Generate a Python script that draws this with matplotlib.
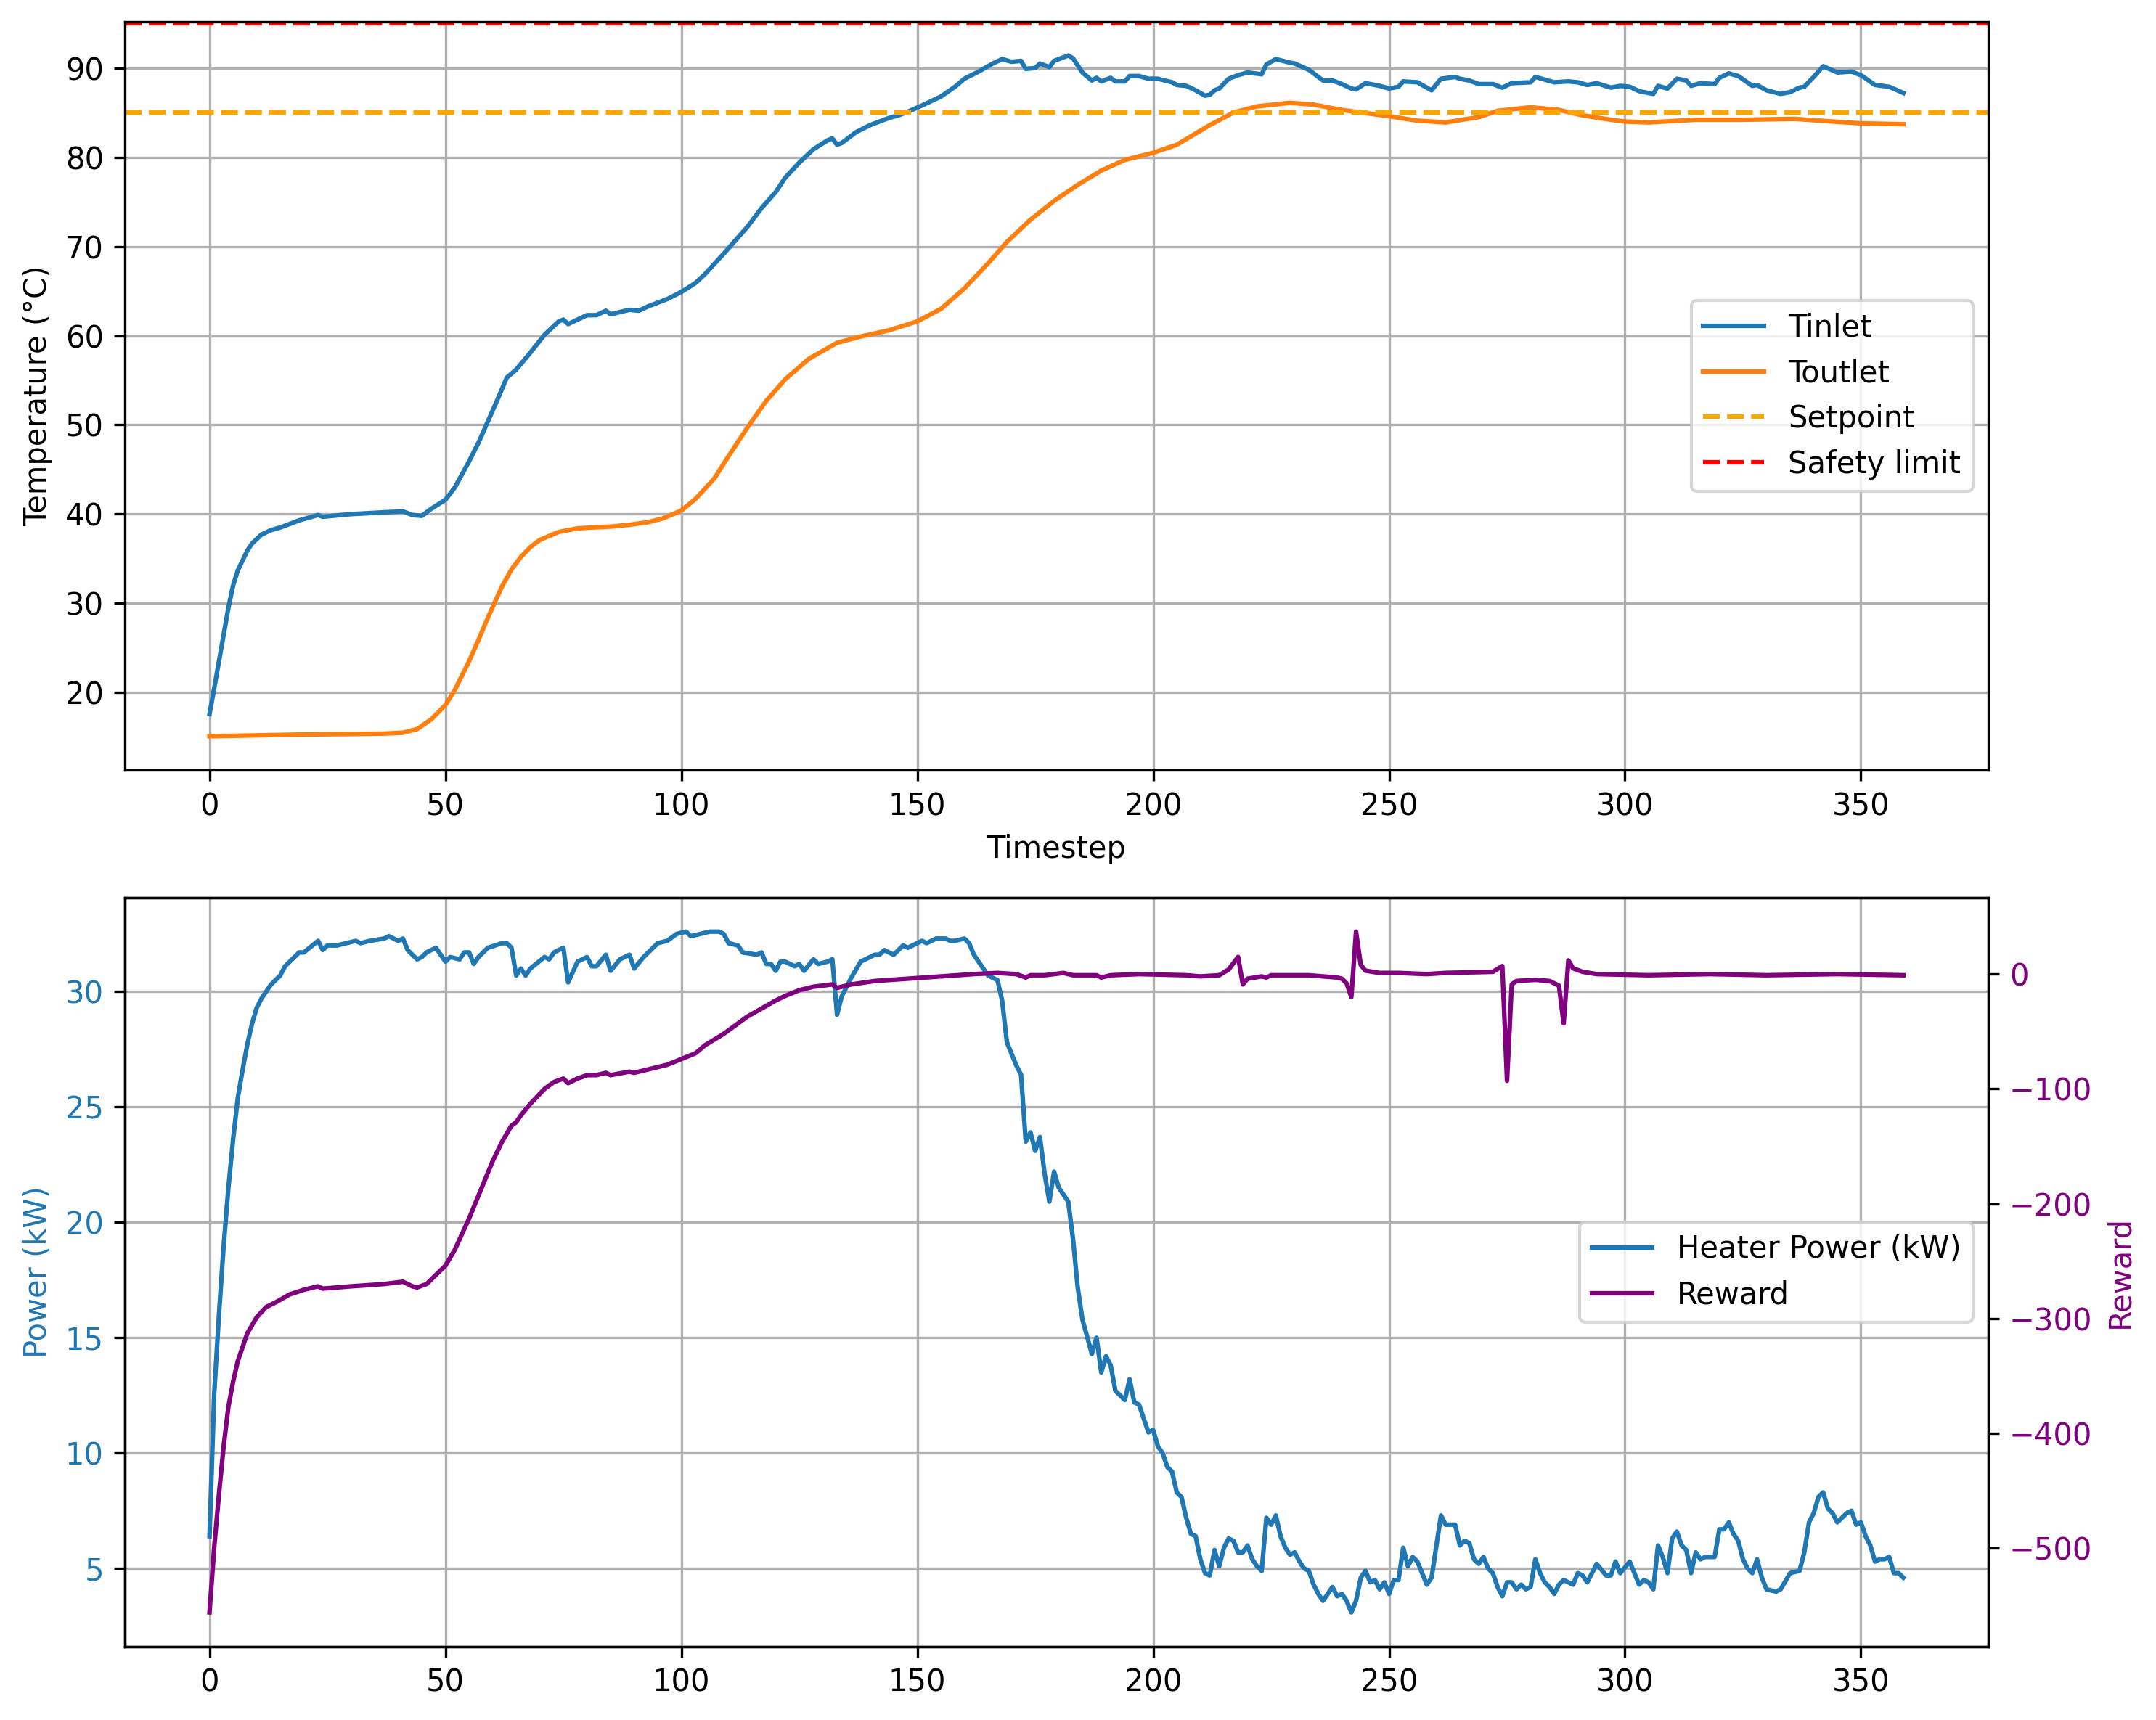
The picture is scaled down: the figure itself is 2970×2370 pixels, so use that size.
import numpy as np
import matplotlib
matplotlib.use("Agg")
from matplotlib import pyplot as plt

# inlet / outlet temperatures (timestep, degC)
t_in = [0, 1, 2, 3, 4, 5, 6, 8, 9, 11, 13, 15, 19, 23, 24, 30, 37, 41, 43, 45, 47, 50,
        52, 55, 57, 59, 61, 63, 65, 68, 71, 74, 75, 76, 80, 82, 84, 85, 89, 91, 93, 97,
        100, 103, 105, 109, 110, 114, 117, 120, 122, 125, 128, 131, 132, 133, 134, 137,
        140, 144, 146, 148, 151, 155, 158, 160, 163, 166, 168, 170, 172, 173, 175, 176,
        178, 179, 182, 183, 185, 187, 188, 189, 191, 192, 194, 195, 197, 199, 201, 204,
        205, 207, 209, 211, 212, 213, 214, 216, 218, 220, 223, 224, 226, 229, 230, 233,
        236, 238, 240, 242, 243, 245, 248, 250, 252, 253, 256, 259, 261, 264, 265, 267,
        269, 272, 274, 276, 280, 281, 285, 288, 290, 292, 294, 297, 299, 301, 303, 306,
        307, 309, 311, 313, 314, 316, 319, 320, 322, 324, 327, 328, 330, 333, 335, 337,
        338, 340, 342, 345, 348, 350, 353, 356, 359]
tinlet = [17.6, 20.5, 23.5, 26.5, 29.5, 32.0, 33.7, 35.9, 36.7, 37.7, 38.2, 38.5, 39.3,
          39.9, 39.7, 40.0, 40.2, 40.3, 39.9, 39.8, 40.6, 41.6, 43.0, 45.9, 48.0, 50.4,
          52.8, 55.3, 56.2, 58.1, 60.1, 61.6, 61.8, 61.3, 62.3, 62.3, 62.8, 62.4, 62.9,
          62.8, 63.3, 64.1, 64.9, 65.9, 66.9, 69.2, 69.8, 72.2, 74.3, 76.1, 77.7, 79.4,
          80.9, 81.9, 82.1, 81.4, 81.6, 82.8, 83.6, 84.4, 84.7, 85.1, 85.8, 86.8, 87.9,
          88.8, 89.6, 90.5, 91.0, 90.7, 90.8, 89.9, 90.0, 90.5, 90.1, 90.8, 91.4, 91.1,
          89.5, 88.6, 88.9, 88.5, 88.9, 88.5, 88.5, 89.1, 89.1, 88.8, 88.8, 88.4, 88.1,
          88.0, 87.5, 86.9, 87.0, 87.5, 87.7, 88.8, 89.2, 89.5, 89.3, 90.4, 91.0, 90.6,
          90.5, 89.8, 88.6, 88.6, 88.2, 87.7, 87.6, 88.3, 88.0, 87.7, 87.9, 88.5, 88.4,
          87.5, 88.8, 89.0, 88.8, 88.6, 88.2, 88.2, 87.8, 88.3, 88.4, 89.0, 88.4, 88.5,
          88.4, 88.1, 88.3, 87.8, 88.0, 87.9, 87.4, 87.1, 88.0, 87.7, 88.8, 88.6, 88.0,
          88.3, 88.2, 88.9, 89.4, 89.1, 88.0, 88.1, 87.5, 87.1, 87.3, 87.8, 87.9, 89.0,
          90.2, 89.5, 89.6, 89.2, 88.1, 87.9, 87.2]

t_out = [0, 10, 20, 30, 37, 41, 44, 47, 50, 52, 55, 57, 59, 62, 64, 66, 68, 70, 74, 78,
         81, 85, 89, 93, 96, 100, 103, 107, 110, 114, 118, 122, 127, 133, 138, 144, 150,
         155, 160, 165, 169, 174, 179, 184, 189, 194, 200, 205, 212, 217, 222, 229, 234,
         240, 250, 256, 262, 269, 273, 280, 286, 291, 297, 300, 305, 315, 325, 336, 344,
         350, 359]
toutlet = [15.1, 15.2, 15.3, 15.35, 15.4, 15.5, 15.9, 17.0, 18.6, 20.3, 23.5, 25.9, 28.4,
           31.9, 33.8, 35.2, 36.3, 37.1, 38.0, 38.4, 38.5, 38.6, 38.8, 39.1, 39.5, 40.4,
           41.7, 44.0, 46.5, 49.7, 52.7, 55.1, 57.4, 59.2, 59.9, 60.6, 61.6, 63.0, 65.3,
           68.1, 70.5, 73.0, 75.1, 76.9, 78.5, 79.7, 80.5, 81.4, 83.6, 85.0, 85.7, 86.1,
           85.9, 85.3, 84.6, 84.1, 83.9, 84.5, 85.2, 85.6, 85.3, 84.7, 84.2, 84.0, 83.9,
           84.2, 84.2, 84.3, 84.0, 83.8, 83.7]

setpoint = 85
safety_limit = 95

# heater power (kW)
t_pow = [0, 1, 2, 3, 4, 5, 6, 7, 8, 9, 10, 11, 12, 13, 15, 16, 19, 20, 23, 24, 25, 27,
         29, 31, 32, 34, 37, 38, 40, 41, 42, 44, 45, 46, 48, 50, 51, 53, 54, 55, 56, 57,
         59, 62, 63, 64, 65, 66, 67, 68, 71, 72, 73, 75, 76, 78, 80, 81, 82, 84, 85, 87,
         89, 90, 92, 93, 95, 97, 99, 101, 102, 104, 106, 108, 109, 110, 112, 113, 116,
         117, 118, 119, 120, 121, 122, 124, 125, 126, 128, 129, 131, 132, 133, 134, 136,
         138, 141, 142, 143, 145, 147, 148, 149, 150, 151, 152, 154, 156, 157, 158, 160,
         161, 162, 164, 165, 167, 168, 169, 171, 172, 173, 174, 175, 176, 177, 178, 179,
         180, 182, 183, 184, 185, 187, 188, 189, 190, 191, 192, 194, 195, 196, 197, 198,
         199, 200, 201, 202, 203, 204, 205, 206, 207, 208, 209, 210, 211, 212, 213, 214,
         215, 216, 217, 218, 219, 220, 221, 222, 223, 224, 225, 226, 227, 228, 229, 230,
         231, 232, 233, 234, 235, 236, 237, 238, 239, 240, 241, 242, 243, 244, 245, 246,
         247, 248, 249, 250, 251, 252, 253, 254, 255, 256, 258, 259, 261, 262, 264, 265,
         266, 267, 268, 269, 270, 271, 272, 273, 274, 275, 276, 277, 278, 279, 280, 281,
         282, 283, 284, 285, 286, 287, 289, 290, 291, 292, 294, 296, 297, 298, 299, 301,
         303, 304, 305, 306, 307, 308, 309, 310, 311, 312, 313, 314, 315, 316, 317, 319,
         320, 321, 322, 323, 324, 325, 326, 327, 328, 329, 330, 332, 333, 335, 337, 338,
         339, 340, 341, 342, 343, 344, 345, 347, 348, 349, 350, 351, 352, 353, 354, 355,
         356, 357, 358, 359]
power = [6.4, 12.6, 16.0, 19.0, 21.5, 23.6, 25.4, 26.6, 27.7, 28.6, 29.3, 29.7, 30.0,
         30.3, 30.7, 31.1, 31.7, 31.7, 32.2, 31.8, 32.0, 32.0, 32.1, 32.2, 32.1, 32.2,
         32.3, 32.4, 32.2, 32.3, 31.8, 31.4, 31.5, 31.7, 31.9, 31.3, 31.5, 31.4, 31.7,
         31.7, 31.2, 31.5, 31.9, 32.1, 32.1, 31.9, 30.7, 31.0, 30.7, 31.0, 31.5, 31.4,
         31.7, 31.9, 30.4, 31.3, 31.5, 31.1, 31.1, 31.6, 30.9, 31.4, 31.6, 31.0, 31.5,
         31.7, 32.1, 32.2, 32.5, 32.6, 32.4, 32.5, 32.6, 32.6, 32.5, 32.1, 32.0, 31.7,
         31.6, 31.7, 31.2, 31.2, 30.9, 31.3, 31.3, 31.1, 31.2, 30.9, 31.4, 31.2, 31.3,
         31.4, 29.0, 29.8, 30.6, 31.3, 31.6, 31.6, 31.8, 31.6, 32.0, 31.9, 32.0, 32.1,
         32.2, 32.1, 32.3, 32.3, 32.2, 32.2, 32.3, 32.1, 31.6, 31.0, 30.7, 30.5, 29.6,
         27.8, 26.8, 26.4, 23.5, 23.9, 23.1, 23.7, 22.1, 20.9, 22.2, 21.5, 20.9, 19.3,
         17.2, 15.8, 14.3, 15.0, 13.5, 14.2, 13.8, 12.7, 12.3, 13.2, 12.2, 12.1, 11.5,
         10.9, 11.0, 10.3, 10.0, 9.4, 9.2, 8.3, 8.1, 7.2, 6.5, 6.4, 5.4, 4.8, 4.7, 5.8,
         5.1, 5.9, 6.3, 6.2, 5.7, 5.7, 6.0, 5.4, 5.1, 4.9, 7.2, 6.9, 7.3, 6.4, 5.9, 5.6,
         5.7, 5.3, 5.0, 4.9, 4.3, 3.9, 3.6, 3.9, 4.2, 3.8, 3.9, 3.6, 3.1, 3.6, 4.6, 4.9,
         4.4, 4.5, 4.1, 4.4, 3.9, 4.5, 4.5, 5.9, 5.1, 5.5, 5.3, 4.3, 4.6, 7.3, 6.9, 6.9,
         6.0, 6.2, 6.1, 5.4, 5.2, 5.5, 5.0, 4.8, 4.2, 3.8, 4.4, 4.4, 4.1, 4.3, 4.1, 4.2,
         5.4, 4.8, 4.4, 4.2, 3.9, 4.3, 4.5, 4.3, 4.8, 4.7, 4.4, 5.2, 4.7, 4.7, 5.3, 4.8,
         5.3, 4.3, 4.5, 4.4, 4.1, 6.0, 5.5, 4.8, 6.3, 6.6, 6.0, 5.8, 4.8, 5.7, 5.4, 5.5,
         5.5, 6.7, 6.7, 7.0, 6.5, 6.2, 5.4, 5.0, 4.8, 5.4, 4.6, 4.1, 4.0, 4.1, 4.8, 4.9,
         5.7, 7.0, 7.4, 8.1, 8.3, 7.6, 7.4, 7.0, 7.4, 7.5, 6.9, 7.0, 6.4, 6.0, 5.3, 5.4,
         5.4, 5.5, 4.8, 4.8, 4.6]

# reward per step
t_rew = [0, 1, 2, 3, 4, 5, 6, 8, 10, 12, 14, 17, 20, 23, 24, 30, 37, 41, 43, 44, 46, 48,
         50, 52, 55, 57, 60, 62, 64, 65, 66, 68, 71, 73, 75, 76, 78, 80, 82, 84, 85, 89,
         90, 93, 97, 100, 103, 105, 109, 110, 114, 117, 120, 122, 125, 128, 132, 133,
         136, 141, 148, 155, 162, 167, 171, 173, 174, 177, 181, 183, 188, 189, 191, 197,
         207, 210, 214, 216, 218, 219, 220, 223, 224, 225, 233, 239, 240, 241, 242, 243,
         244, 245, 248, 252, 258, 262, 272, 274, 275, 276, 277, 281, 284, 286, 287, 288,
         289, 291, 294, 305, 318, 330, 345, 359]
reward = [-556, -499, -453, -411, -377, -355, -337, -313, -299, -290, -286, -279, -275,
          -272, -274, -272, -270, -268, -272, -273, -270, -262, -254, -240, -213, -193,
          -163, -146, -132, -129, -123, -113, -100, -94, -91, -95, -91, -88, -88, -86,
          -88, -85, -86, -83, -79, -74, -69, -62, -52, -49, -37, -30, -23, -19, -14, -11,
          -9, -12, -9, -6, -4, -2, 0, 1, 0, -3, -1, -1, 1, -1, -1, -3, -1, 0, -1, -2, -1,
          4, 15, -9, -4, -2, -3, -1, -1, -3, -4, -8, -20, 37, 8, 3, 1, 1, 0, 1, 2, 7, -93,
          -9, -6, -5, -6, -10, -43, 12, 5, 2, 0, -1, 0, -1, 0, -1]


fig, (ax, ax1) = plt.subplots(2, 1, figsize=(9.9, 7.9))
fig.subplots_adjust(left=0.0579, right=0.9221, top=0.9875, bottom=0.0428, hspace=0.17)

# temperatures
ax.plot(t_in, tinlet, label="Tinlet")
ax.plot(t_out, toutlet, label="Toutlet")
ax.axhline(setpoint, color="orange", linestyle="--", label="Setpoint")
ax.axhline(safety_limit, color="r", linestyle="--", label="Safety limit")
ax.set_xlabel("Timestep")
ax.set_ylabel("Temperature (°C)")
ax.legend(loc="center right")
ax.grid(True)

# power + reward on twin axis
l1, = ax1.plot(t_pow, power, color="tab:blue", label="Heater Power (kW)")
ax1.set_ylabel("Power (kW)", color="tab:blue")
ax1.tick_params(axis="y", labelcolor="tab:blue")
ax1.grid(True)

ax2 = ax1.twinx()
l2, = ax2.plot(t_rew, reward, color="purple", label="Reward")
ax2.set_ylabel("Reward", color="purple")
ax2.tick_params(axis="y", labelcolor="purple")

ax2.legend([l1, l2], [l1.get_label(), l2.get_label()], loc="center right")

fig.savefig("out.png", dpi=300)
